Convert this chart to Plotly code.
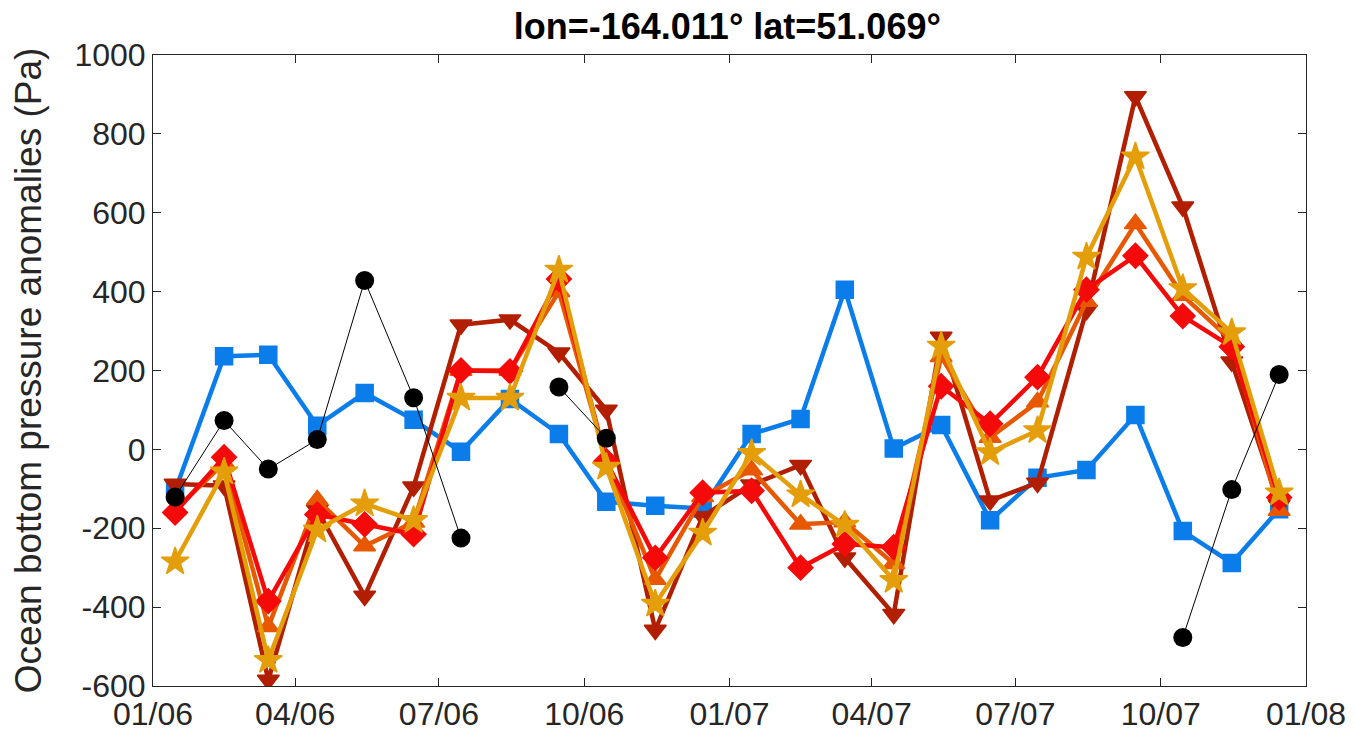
import plotly.graph_objects as go

dates = ["2006-01-15", "2006-02-15", "2006-03-15", "2006-04-15", "2006-05-15", "2006-06-15",
         "2006-07-15", "2006-08-15", "2006-09-15", "2006-10-15", "2006-11-15", "2006-12-15",
         "2007-01-15", "2007-02-15", "2007-03-15", "2007-04-15", "2007-05-15", "2007-06-15",
         "2007-07-15", "2007-08-15", "2007-09-15", "2007-10-15", "2007-11-15", "2007-12-15"]

blue_sq = [-105, 236, 240, 60, 143, 75, -6, 128, 39, -133, -143, -150,
           39, 77, 405, 2, 62, -180, -72, -52, 87, -207, -288, -152]

black_ci = [-121, 73, -50, 25, 428, 131, -225, None, 158, 28, None, None,
            None, None, None, None, None, None, None, None, None, -477, -102, 190]

red_di = [-160, -20, -385, -165, -190, -215, 200, 198, 432, -30, -275, -110,
          -105, -300, -240, -248, 160, 65, 183, 405, 491, 338, 260, -122]

orange_up = [-153, -35, -450, -128, -245, -185, 200, 200, 400, -28, -330, -120,
             -52, -190, -184, -290, 235, 30, 120, 375, 572, 390, 275, -155]

darkred_dn = [-88, -92, -585, -153, -372, -95, 316, 329, 245, 100, -458, -170,
              -90, -40, -275, -418, 285, -130, -85, 353, 895, 615, 222, -141]

gold_st = [-285, -57, -535, -204, -138, -180, 130, 130, 455, -45, -392, -212,
           -10, -115, -192, -332, 262, -8, 48, 488, 742, 408, 296, -110]

ytick_vals = [-600, -400, -200, 0, 200, 400, 600, 800, 1000]
ytick_text = ["-600", "-400", "-200", "0", "200", "400", "600", "800", "1000"]

title_text = "lon=-164.011° lat=51.069°"
ylabel = "Ocean bottom pressure anomalies (Pa)"

fig = go.Figure()

def add(y, color, symbol, size, lw, mlw):
    fig.add_trace(go.Scatter(
        x=dates, y=y, mode="lines+markers",
        line=dict(color=color, width=lw),
        marker=dict(symbol=symbol, size=size, color=color, line=dict(color=color, width=mlw)),
        connectgaps=False, showlegend=False, hoverinfo="x+y"))

add(blue_sq, "rgb(10,125,235)", "square", 17, 4.5, 1.5)
add(darkred_dn, "rgb(178,30,0)", "triangle-down", 19, 4.5, 1.5)
add(orange_up, "rgb(232,88,0)", "triangle-up", 19, 4.5, 1.5)
add(red_di, "rgb(245,10,10)", "diamond", 19, 4.5, 1.5)
add(gold_st, "rgb(228,158,10)", "star", 21, 4.5, 1.5)
add(black_ci, "black", "circle", 19, 1, 0)

axis_color = "rgb(38,38,38)"
fig.update_layout(
    width=1347, height=726,
    margin=dict(l=145, r=49, t=47, b=48, autoexpand=False),
    paper_bgcolor="white", plot_bgcolor="white",
    title=dict(text="<b>" + title_text + "</b>", x=0.534, xanchor="center",
               y=0.992, yanchor="top", pad=dict(t=0),
               font=dict(family="Liberation Sans, Arial", size=36, color="black")),
    font=dict(family="Liberation Sans, Arial", size=32, color=axis_color),
)
fig.update_xaxes(
    type="date", range=["2006-01-01", "2008-01-01"], dtick="M3", tick0="2006-01-01",
    tickformat="%m/%y", ticks="inside", ticklen=8, tickcolor=axis_color,
    showline=True, linecolor=axis_color, linewidth=1, mirror="allticks",
    showgrid=False, zeroline=False, automargin=False,
    tickfont=dict(size=32, color=axis_color))
fig.update_yaxes(
    range=[-600, 1000], tickmode="array", tickvals=ytick_vals, ticktext=ytick_text,
    ticks="inside", ticklen=8, tickcolor=axis_color,
    showline=True, linecolor=axis_color, linewidth=1, mirror="allticks",
    showgrid=False, zeroline=False, automargin=False,
    tickfont=dict(size=32, color=axis_color),
    title=dict(text=ylabel, font=dict(size=37, color=axis_color), standoff=22))

fig.write_html("out.html")
